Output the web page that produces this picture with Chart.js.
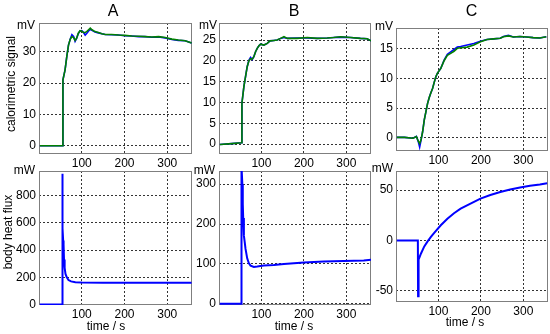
<!DOCTYPE html>
<html>
<head>
<meta charset="utf-8">
<title>calorimetric signal / body heat flux</title>
<script src="https://cdn.jsdelivr.net/npm/chart.js@4.4.1/dist/chart.umd.min.js"></script>
<style>
  html, body { margin: 0; padding: 0; background: #fff; }
  #wrap { position: relative; width: 550px; height: 334px; overflow: hidden; background: #fff; }
  #wrap canvas { position: absolute; }
</style>
</head>
<body>
<div id="wrap"></div>
<script>
// ---- values ----
const xTicks = [100, 200, 300];

// A, calorimetric signal (mV)
const tSigA = [2, 40, 55.5, 56, 61, 65, 69, 73, 77, 81, 84.5, 88, 92, 96, 100, 104, 108, 112, 116, 120, 124, 131, 139, 147, 155, 170, 186, 201, 217, 233, 248, 264, 280, 295, 311, 326, 342, 357];
const sigA_blue  = [0, 0, 0, 21, 24.2, 28.4, 32.1, 34.0, 35.4, 34.9, 33.3, 34.2, 35.8, 36.6, 36.7, 36.2, 35.3, 35.9, 36.6, 37.1, 36.8, 36.3, 36.0, 35.7, 35.5, 35.4, 35.3, 35.1, 35.0, 34.8, 34.8, 34.6, 34.7, 34.4, 33.9, 33.6, 33.5, 32.8];
const sigA_green = [0, 0, 0, 21, 24.2, 28.4, 32.1, 33.9, 34.8, 34.5, 33.6, 34.3, 35.9, 36.7, 36.5, 36.1, 36.1, 36.5, 37.0, 37.5, 37.0, 36.4, 36.1, 35.7, 35.5, 35.5, 35.3, 35.2, 35.0, 34.9, 34.8, 34.7, 34.8, 34.5, 34.0, 33.7, 33.5, 32.8];

// B, calorimetric signal (mV)
const tSigB = [2, 30, 53, 54, 58.6, 62.5, 66.4, 70.4, 74.3, 78.2, 82.1, 86.1, 90, 94, 98, 105.7, 113.6, 120, 129.3, 137, 145, 153, 161, 184, 208, 231, 255, 270, 286, 310, 333, 349, 358];
const sigB_blue  = [-0.1, 0.1, 0.3, 9.8, 13.8, 16.2, 18.6, 20.1, 20.8, 20.3, 21.0, 22.2, 23.0, 23.6, 24.0, 23.8, 24.2, 24.8, 24.9, 25.0, 25.4, 25.6, 25.4, 25.5, 25.5, 25.4, 25.5, 25.6, 25.7, 25.6, 25.4, 25.3, 24.8];
const sigB_green = [-0.1, 0.1, 0.3, 9.8, 13.8, 16.2, 18.6, 20.0, 20.5, 20.4, 21.0, 22.2, 23.0, 23.6, 24.0, 23.8, 24.2, 24.8, 24.9, 25.0, 25.4, 25.8, 25.4, 25.4, 25.6, 25.4, 25.5, 25.6, 25.8, 25.6, 25.4, 25.3, 24.8];

// C, calorimetric signal (mV)
const tSigC = [2, 20, 40, 48, 52.6, 55.7, 58.8, 62.7, 66.6, 70.5, 74.4, 78.3, 82.2, 86.1, 90, 93.8, 97.7, 105.5, 113.3, 121, 128.8, 136.6, 144.4, 152.2, 167.7, 183.3, 198.8, 214.4, 230, 245.5, 253, 264.8, 276.4, 292, 307.5, 323, 338.6, 354];
const sigC_blue  = [0.05, 0.05, -0.1, 0.2, -0.7, -1.6, -0.5, 1.0, 3.0, 4.4, 5.8, 6.8, 7.6, 8.3, 9.35, 10.3, 10.9, 11.7, 13.1, 14.1, 14.5, 14.9, 15.3, 15.4, 15.65, 15.9, 16.3, 16.6, 16.7, 16.8, 17.1, 17.3, 17.0, 17.1, 17.0, 16.9, 16.85, 17.05];
const sigC_green = [0.05, 0.05, -0.1, 0.2, -0.6, -1.0, -0.4, 1.0, 3.0, 4.4, 5.8, 6.8, 7.6, 8.3, 9.35, 10.3, 10.9, 11.7, 13.0, 13.9, 14.25, 14.6, 15.1, 15.2, 15.3, 15.65, 16.2, 16.6, 16.7, 16.8, 17.05, 17.2, 17.0, 17.1, 17.0, 16.9, 16.85, 17.05];

// body heat flux (mW)
const tFluxA = [2, 40, 54, 54.5, 55.5, 56.5, 57.5, 58.5, 60, 62, 65, 69, 75, 85, 100, 150, 250, 357];
const fluxA  = [0, 0, 0, 960, 560, 470, 440, 330, 270, 225, 200, 180, 170, 164, 162, 160, 160, 160];

const tFluxB = [2, 40, 52.5, 53, 55, 56, 57, 58.6, 60.5, 62.5, 66.4, 70.4, 74.3, 82.1, 90, 105.7, 129.3, 152.9, 200, 247, 294, 341, 358];
const fluxB  = [0, 0, 0, 345, 300, 250, 215, 171, 155, 137.5, 114, 101.7, 95.8, 92.5, 93.3, 95.8, 97.5, 100, 103.3, 105.8, 107.5, 108.3, 110.5];

const tFluxC = [2, 40, 51.5, 52, 53, 53.4, 58.9, 66.6, 74.4, 82.2, 90, 105.5, 121, 136.6, 152.2, 175.5, 198.9, 222.2, 245.6, 268.9, 292.2, 315.6, 338.9, 356];
const fluxC  = [0, 0, 0, -55.5, -25, -19, -13, -6, -1, 3.5, 7.5, 15, 21.5, 27, 31.5, 36.5, 41.5, 45, 48, 50.5, 52.5, 54.3, 55.5, 56.8];

const yTicksSigA = [0, 10, 20, 30];
const yTicksSigB = [0, 5, 10, 15, 20, 25];
const yTicksSigC = [0, 5, 10, 15];
const yTicksFluxA = [0, 200, 400, 600, 800];
const yTicksFluxB = [0, 100, 200, 300];
const yTicksFluxC = [-50, 0, 50];

// ---- drawing ----
const BLUE = '#0000ff';
const GREEN = '#008000';
const FONT = '"Liberation Sans", Arial, sans-serif';
const PADL = 39, PADT = 28, PADR = 8, PADB = 34;
const wrap = document.getElementById('wrap');

// frame round the plot area + free texts (titles, units, axis labels)
const panelText = {
  id: 'panelText',
  beforeDatasetsDraw(chart) {
    const {ctx, chartArea: a} = chart;
    ctx.save();
    ctx.strokeStyle = '#7f7f7f';
    ctx.lineWidth = 1;
    ctx.strokeRect(a.left + 0.5, a.top + 0.5, a.right - a.left - 1, a.bottom - a.top - 1);
    ctx.restore();
  },
  afterDraw(chart, args, opts) {
    const ctx = chart.ctx;
    ctx.save();
    ctx.fillStyle = '#000';
    for (const t of opts.texts) {
      ctx.font = t.size + 'px ' + FONT;
      ctx.textAlign = t.align || 'center';
      ctx.textBaseline = t.base || 'alphabetic';
      ctx.save();
      ctx.translate(t.x - opts.ox, t.y - opts.oy);
      if (t.rot) ctx.rotate(-Math.PI / 2);
      ctx.fillText(t.text, 0, 0);
      ctx.restore();
    }
    ctx.restore();
  }
};

function makePanel(p) {
  const [L, T, W, H] = p.box;
  const ox = L - PADL, oy = T - PADT;
  const cv = document.createElement('canvas');
  cv.width = PADL + W + PADR;
  cv.height = PADT + H + PADB;
  cv.style.left = ox + 'px';
  cv.style.top = oy + 'px';
  wrap.appendChild(cv);

  const tickFont = {family: FONT, size: 12};
  new Chart(cv.getContext('2d'), {
    type: 'line',
    data: {
      datasets: p.series.map(s => ({
        data: p.t.map((x, i) => ({x: x, y: s.values[i]})),
        borderColor: s.color,
        borderWidth: s.width,
        pointRadius: 0,
        tension: 0,
        fill: false
      }))
    },
    options: {
      responsive: false,
      animation: false,
      devicePixelRatio: 1,
      layout: {autoPadding: false, padding: {left: 0, top: PADT, right: PADR, bottom: 0}},
      plugins: {
        legend: {display: false},
        tooltip: {enabled: false},
        panelText: {ox: ox, oy: oy, texts: p.texts}
      },
      scales: {
        x: {
          type: 'linear', min: 0, max: 358,
          afterFit: s => { s.height = PADB; },
          afterBuildTicks: s => { s.ticks = xTicks.map(v => ({value: v})); },
          ticks: {font: tickFont, color: '#000', padding: 2, maxRotation: 0, autoSkip: false},
          grid: {color: '#333', lineWidth: 1, drawTicks: false},
          border: {display: false, dash: [2, 2]}
        },
        y: {
          type: 'linear', min: p.yMin, max: p.yMax,
          afterFit: s => { s.width = PADL; },
          afterBuildTicks: s => { s.ticks = p.yTicks.map(v => ({value: v})); },
          ticks: {font: tickFont, color: '#000', padding: 3, autoSkip: false},
          grid: {color: '#333', lineWidth: 1, drawTicks: false},
          border: {display: false, dash: [2, 2]}
        }
      }
    },
    plugins: [panelText]
  });
}

const sigSeries = (blue, green) => [
  {values: green, color: GREEN, width: 1.6},
  {values: blue, color: BLUE, width: 1.6}
];

makePanel({
  box: [39, 23, 153, 131], t: tSigA, series: sigSeries(sigA_blue, sigA_green),
  yMin: -2.65, yMax: 39.15, yTicks: yTicksSigA,
  texts: [
    {text: 'A', x: 113, y: 11.5, size: 16, base: 'middle'},
    {text: 'mV', x: 35, y: 29, size: 12, align: 'right'},
    {text: 'calorimetric signal', x: 11.5, y: 84, size: 12, base: 'middle', rot: true}
  ]
});
makePanel({
  box: [219, 23, 152, 131], t: tSigB, series: sigSeries(sigB_blue, sigB_green),
  yMin: -2.4, yMax: 29.1, yTicks: yTicksSigB,
  texts: [
    {text: 'B', x: 294, y: 11.5, size: 16, base: 'middle'},
    {text: 'mV', x: 217, y: 29, size: 12, align: 'right'}
  ]
});
makePanel({
  box: [396, 28, 152, 123], t: tSigC, series: sigSeries(sigC_blue, sigC_green),
  yMin: -2.25, yMax: 18.53, yTicks: yTicksSigC,
  texts: [
    {text: 'C', x: 471.5, y: 11.5, size: 16, base: 'middle'},
    {text: 'mV', x: 393, y: 30, size: 12, align: 'right'}
  ]
});
makePanel({
  box: [39, 171, 153, 134], t: tFluxA, series: [{values: fluxA, color: BLUE, width: 2}],
  yMin: -3, yMax: 980, yTicks: yTicksFluxA,
  texts: [
    {text: 'mW', x: 35, y: 174, size: 12, align: 'right'},
    {text: 'body heat flux', x: 8.5, y: 232, size: 12, base: 'middle', rot: true},
    {text: 'time / s', x: 106, y: 330, size: 12}
  ]
});
makePanel({
  box: [219, 171, 152, 134], t: tFluxB, series: [{values: fluxB, color: BLUE, width: 2}],
  yMin: -3, yMax: 333, yTicks: yTicksFluxB,
  texts: [
    {text: 'mW', x: 215, y: 173.5, size: 12, align: 'right'},
    {text: 'time / s', x: 294, y: 330, size: 12}
  ]
});
makePanel({
  box: [396, 171, 152, 131], t: tFluxC, series: [{values: fluxC, color: BLUE, width: 2}],
  yMin: -61.2, yMax: 68.9, yTicks: yTicksFluxC,
  texts: [
    {text: 'mW', x: 393, y: 172, size: 12, align: 'right'},
    {text: 'time / s', x: 465, y: 326, size: 12}
  ]
});
</script>
</body>
</html>
